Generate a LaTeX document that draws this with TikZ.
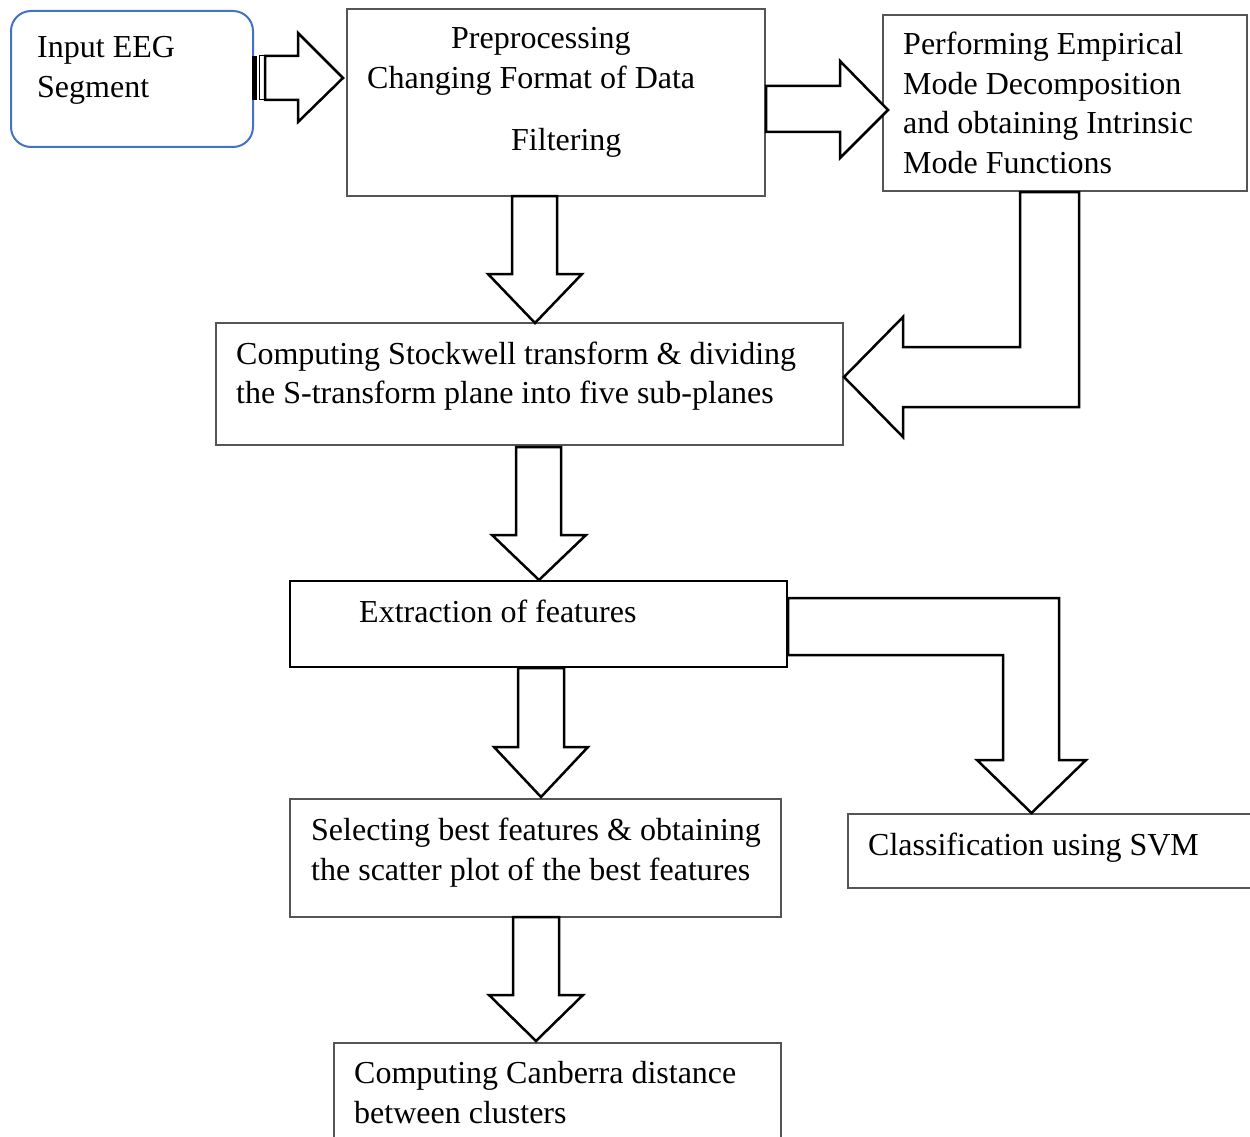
\documentclass[tikz,border=0pt]{standalone}
\usepackage{fontspec}
\setmainfont{Liberation Serif}
\definecolor{boxgray}{HTML}{555555}
\definecolor{roundblue}{HTML}{4472C4}
\begin{document}
\begin{tikzpicture}[x=1pt,y=-1pt,
  box/.style={draw=boxgray,line width=1.5pt,rectangle,inner sep=0pt,outer sep=0pt,anchor=north west},
  rbox/.style={draw=roundblue,line width=2pt,rounded corners=20pt,rectangle,inner sep=0pt,outer sep=0pt,anchor=north west},
  tbox/.style={draw=black,line width=2.5pt,rectangle,inner sep=0pt,outer sep=0pt,anchor=north west},
  blk/.style={draw=black,line width=2.5pt,fill=white,line join=miter},
  txt/.style={anchor=base west,inner sep=0pt,font=\fontsize{32}{39.5}\selectfont}
]
\useasboundingbox (0,0) rectangle (1250,1137);
\clip (0,0) rectangle (1250,1137);
% boxes
\node[rbox,minimum width=242pt,minimum height=136pt] (inp) at (11,11) {};
\node[box,minimum width=418pt,minimum height=187pt] (pre) at (347,9) {};
\node[box,minimum width=364pt,minimum height=176pt] (emd) at (883,15) {};
\node[box,minimum width=627pt,minimum height=122pt] (stk) at (216,323) {};
\node[tbox,minimum width=497pt,minimum height=86pt] (ext) at (290,581) {};
\node[box,minimum width=491pt,minimum height=118pt] (sel) at (290,799) {};
\node[box,minimum width=430pt,minimum height=74pt] (cls) at (848,814) {};
\node[box,minimum width=447pt,minimum height=130pt] (cnb) at (334,1043) {};
% texts
\node[txt] (t1) at (37,58) {Input EEG};
\node[txt] (t2) at (37,98) {Segment};
\node[txt] (t3) at (451,49) {Preprocessing};
\node[txt] (t4) at (367,89) {Changing Format of Data};
\node[txt] (t5) at (511,150) {Filtering};
\node[txt] (t6) at (903,55) {Performing Empirical};
\node[txt] (t7) at (903,95) {Mode Decomposition};
\node[txt] (t8) at (903,134) {and obtaining Intrinsic};
\node[txt] (t9) at (903,173) {Mode Functions};
\node[txt] (t10) at (236,364) {Computing Stockwell transform \& dividing};
\node[txt] (t11) at (236,403) {the S-transform plane into five sub-planes};
\node[txt] (t12) at (359,622) {Extraction of features};
\node[txt] (t13) at (311,840) {Selecting best features \& obtaining};
\node[txt] (t14) at (311,880) {the scatter plot of the best features};
\node[txt] (t15) at (868,855) {Classification using SVM};
\node[txt] (t16) at (354,1083) {Computing Canberra distance};
\node[txt] (t17) at (354,1123) {between clusters};
% block arrows
% inp -> pre (striped)
\fill[black] (252,56) rectangle (257,100);
\draw[black,line width=1pt] (259.5,56) rectangle (265,100);
\draw[blk] (265,56) -- (298,56) -- (298,33) -- (343,78) -- (298,122) -- (298,100) -- (265,100) -- cycle;
% pre -> emd
\draw[blk] (766,86) -- (840,86) -- (840,61) -- (888,110) -- (840,158) -- (840,132) -- (766,132) -- cycle;
% pre -> stk
\draw[blk] (512,196) -- (512,274) -- (488,274) -- (535,323) -- (582,274) -- (557,274) -- (557,196) -- cycle;
% emd -> stk
\draw[blk] (1020,192) -- (1020,347) -- (903,347) -- (903,317) -- (844,377) -- (903,437) -- (903,407) -- (1079,407) -- (1079,192) -- cycle;
% stk -> ext
\draw[blk] (516,447) -- (516,535) -- (492,535) -- (539,580) -- (586,535) -- (561,535) -- (561,447) -- cycle;
% ext -> cls
\draw[blk] (788,598) -- (1059,598) -- (1059,760) -- (1086,760) -- (1031.5,813) -- (977,760) -- (1003,760) -- (1003,655) -- (788,655) -- cycle;
% ext -> sel
\draw[blk] (518,668) -- (518,747) -- (494,747) -- (541,797) -- (588,747) -- (564,747) -- (564,668) -- cycle;
% sel -> cnb
\draw[blk] (513,917) -- (513,995) -- (489,995) -- (536,1041) -- (583,995) -- (559,995) -- (559,917) -- cycle;
\end{tikzpicture}
\end{document}
